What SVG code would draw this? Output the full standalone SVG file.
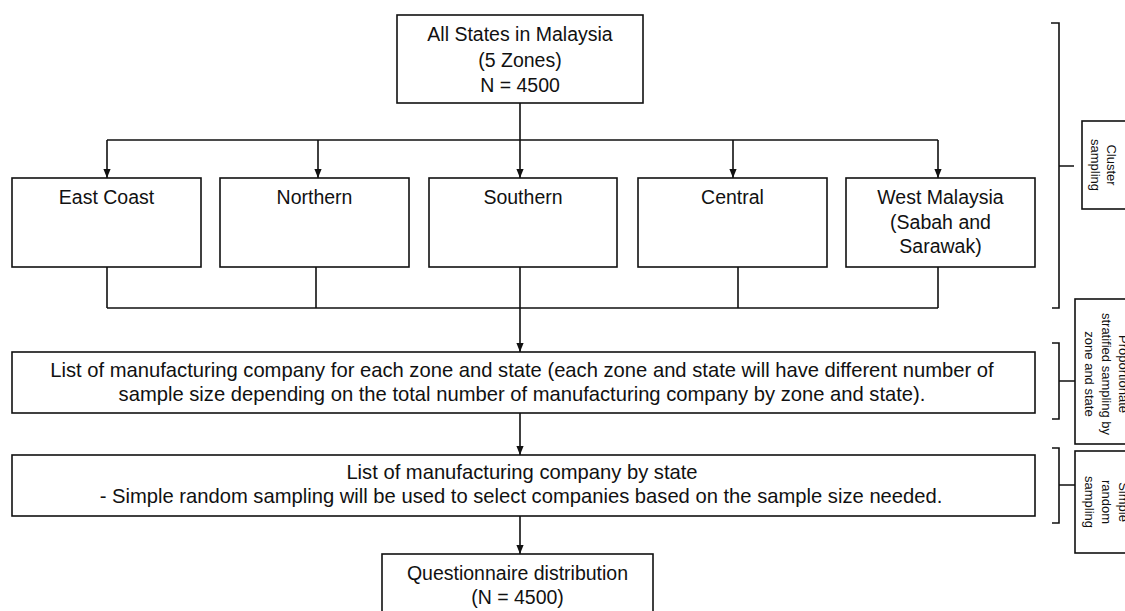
<svg xmlns="http://www.w3.org/2000/svg" width="1125" height="611" viewBox="0 0 1125 611">
<style>
.box{fill:#fff;stroke:#111;stroke-width:1.6}
.ln{fill:none;stroke:#111;stroke-width:1.6}
.t{font-family:"Liberation Sans",Arial,sans-serif;font-size:19.5px;fill:#111;text-anchor:middle}
.w{font-size:20.2px}
.s{font-family:"Liberation Sans",Arial,sans-serif;font-size:13px;fill:#111;text-anchor:middle}
</style>
<defs>
<marker id="ah" viewBox="0 0 10 10" refX="10" refY="5" markerWidth="10" markerHeight="9" markerUnits="userSpaceOnUse" orient="auto">
<path d="M0,1 L10,5 L0,9 z" fill="#111"/>
</marker>
</defs>
<rect width="1125" height="611" fill="#fff"/>

<g id="connectors">
<path class="ln" d="M520,103 V140 M107,140 H938"/>
<path class="ln" d="M107,140 V178" marker-end="url(#ah)"/>
<path class="ln" d="M318,140 V178" marker-end="url(#ah)"/>
<path class="ln" d="M520,140 V178" marker-end="url(#ah)"/>
<path class="ln" d="M733,140 V178" marker-end="url(#ah)"/>
<path class="ln" d="M938,140 V178" marker-end="url(#ah)"/>
<path class="ln" d="M107,267 V308 M316,267 V308 M520,267 V308 M738,267 V308 M938,267 V308 M107,308 H938"/>
<path class="ln" d="M520,308 V352" marker-end="url(#ah)"/>
<path class="ln" d="M520,413 V455" marker-end="url(#ah)"/>
<path class="ln" d="M520,516 V554" marker-end="url(#ah)"/>
</g>

<g id="all-states">
<rect class="box" x="397" y="15" width="246" height="88"/>
<text class="t" x="520" y="41">All States in Malaysia</text>
<text class="t" x="520" y="67">(5 Zones)</text>
<text class="t" x="520" y="92">N = 4500</text>
</g>

<g id="east-coast">
<rect class="box" x="12" y="178" width="189" height="89"/>
<text class="t" x="106.5" y="204">East Coast</text>
</g>
<g id="northern">
<rect class="box" x="220" y="178" width="189" height="89"/>
<text class="t" x="314.5" y="204">Northern</text>
</g>
<g id="southern">
<rect class="box" x="429" y="178" width="188" height="89"/>
<text class="t" x="523" y="204">Southern</text>
</g>
<g id="central">
<rect class="box" x="638" y="178" width="189" height="89"/>
<text class="t" x="732.5" y="204">Central</text>
</g>
<g id="west-malaysia">
<rect class="box" x="846" y="178" width="189" height="89"/>
<text class="t" x="940.5" y="204">West Malaysia</text>
<text class="t" x="940.5" y="229">(Sabah and</text>
<text class="t" x="940.5" y="253">Sarawak)</text>
</g>

<g id="list-zone-state">
<rect class="box" x="12" y="352" width="1023" height="61"/>
<text class="t w" x="522" y="377">List of manufacturing company for each zone and state (each zone and state will have different number of</text>
<text class="t w" x="522" y="401">sample size depending on the total number of manufacturing company by zone and state).</text>
</g>

<g id="list-by-state">
<rect class="box" x="12" y="455" width="1023" height="61"/>
<text class="t w" x="522" y="479">List of manufacturing company by state</text>
<text class="t w" x="521" y="503">- Simple random sampling will be used to select companies based on the sample size needed.</text>
</g>

<g id="questionnaire">
<rect class="box" x="382" y="554" width="271" height="70"/>
<text class="t" x="517.5" y="580">Questionnaire distribution</text>
<text class="t" x="517.5" y="604">(N = 4500)</text>
</g>

<g id="braces">
<path class="ln" d="M1051,23 H1059 V308 H1052 M1059,166 H1074"/>
<path class="ln" d="M1052,343 H1059 V419 H1052 M1059,381 H1075"/>
<path class="ln" d="M1052,448 H1059 V523 H1052 M1059,485 H1075"/>
</g>

<g id="cluster-sampling">
<rect class="box" x="1082" y="121" width="60" height="88"/>
<g transform="translate(0,165) rotate(90)">
<text class="s" x="0" y="-1107">Cluster</text>
<text class="s" x="0" y="-1091">sampling</text>
</g>
</g>

<g id="proportionate-sampling">
<rect class="box" x="1075" y="299" width="70" height="145"/>
<g transform="translate(0,374) rotate(90)">
<text class="s" x="0" y="-1119">Proportionate</text>
<text class="s" x="0" y="-1102">stratified sampling by</text>
<text class="s" x="0" y="-1085">zone and state</text>
</g>
</g>

<g id="simple-random-sampling">
<rect class="box" x="1075" y="451" width="70" height="102"/>
<g transform="translate(0,502) rotate(90)">
<text class="s" x="0" y="-1119">Simple</text>
<text class="s" x="0" y="-1102">random</text>
<text class="s" x="0" y="-1085">sampling</text>
</g>
</g>
</svg>
